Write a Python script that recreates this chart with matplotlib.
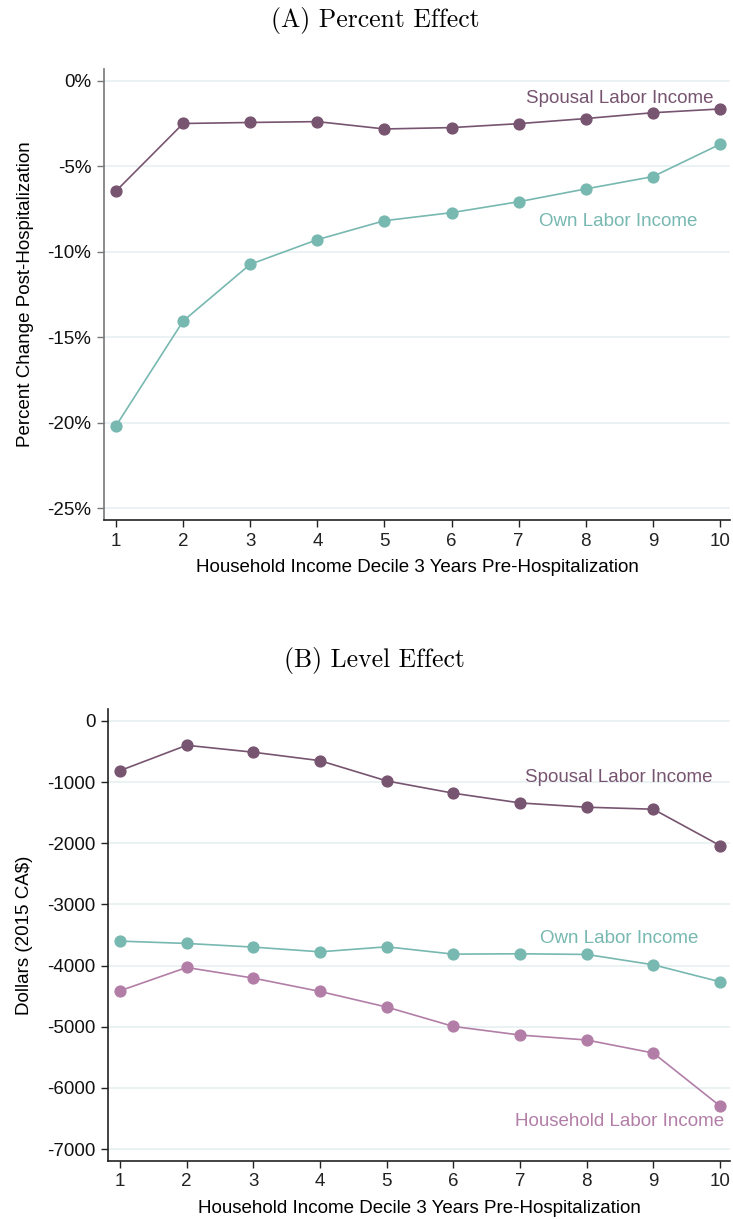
import matplotlib
matplotlib.use("Agg")
import matplotlib.pyplot as plt
from matplotlib.ticker import FuncFormatter

plt.rcParams['font.family'] = ['Liberation Sans', 'DejaVu Sans']

deciles = [1, 2, 3, 4, 5, 6, 7, 8, 9, 10]

# Panel A: percent effect
pct_spousal = [-6.44, -2.49, -2.43, -2.38, -2.81, -2.73, -2.50, -2.20, -1.86, -1.64]
pct_own = [-20.18, -14.05, -10.73, -9.29, -8.18, -7.71, -7.07, -6.32, -5.60, -3.71]
pct_ticks = [0, -5, -10, -15, -20, -25]

# Panel B: level effect (2015 CA$)
lvl_spousal = [-812, -397, -511, -649, -980, -1181, -1340, -1410, -1443, -2037]
lvl_own = [-3600, -3638, -3698, -3775, -3693, -3813, -3807, -3818, -3987, -4265]
lvl_household = [-4412, -4031, -4205, -4423, -4678, -4995, -5136, -5217, -5430, -6296]
lvl_ticks = [0, -1000, -2000, -3000, -4000, -5000, -6000, -7000]

C_SP = '#775470'
C_OWN = '#77b8b1'
C_HH = '#b27ea7'
GRID = '#e8f0f2'

W, H = 733, 1219
fig = plt.figure(figsize=(W / 100, H / 100), dpi=100)

fs_tick = 13.5
fs_lab = 13.5

def style(ax, left_color):
    ax.spines['top'].set_visible(False)
    ax.spines['right'].set_visible(False)
    ax.spines['left'].set_color(left_color)
    ax.spines['left'].set_linewidth(1.2)
    ax.spines['bottom'].set_color('#222222')
    ax.spines['bottom'].set_linewidth(1.2)
    ax.tick_params(axis='both', labelsize=fs_tick, length=5, width=1, colors='#222222', direction='out', pad=4)
    ax.tick_params(axis='y', colors=left_color, labelcolor='#111111')
    ax.grid(axis='y', color=GRID, linewidth=1.2)
    ax.set_axisbelow(True)
    ax.set_xticks(deciles)
    ax.set_xlim(0.82, 10.15)

mk = dict(marker='o', markersize=7.8, linewidth=1.2)

# Panel A
axA = fig.add_axes([104 / W, 1 - 520 / H, (730 - 104) / W, (520 - 69) / H])
axA.plot(deciles, pct_spousal, color=C_SP, **mk)
axA.plot(deciles, pct_own, color=C_OWN, **mk)
style(axA, '#777777')
axA.set_ylim(-25.7, 0.7)
axA.set_yticks(pct_ticks)
axA.yaxis.set_major_formatter(FuncFormatter(lambda v, p: f"{int(round(v))}%"))
axA.set_xlabel('Household Income Decile 3 Years Pre-Hospitalization', fontsize=fs_lab, labelpad=7)
axA.set_ylabel('Percent Change Post-Hospitalization', fontsize=fs_lab, labelpad=10)
axA.text(9.90, -1.05, 'Spousal Labor Income', color=C_SP, fontsize=fs_lab, ha='right', va='center')
axA.text(9.67, -8.2, 'Own Labor Income', color=C_OWN, fontsize=fs_lab, ha='right', va='center')

# Panel B
axB = fig.add_axes([108 / W, 1 - 1160.7 / H, (730 - 108) / W, (1160.7 - 709) / H])
axB.plot(deciles, lvl_spousal, color=C_SP, **mk)
axB.plot(deciles, lvl_own, color=C_OWN, **mk)
axB.plot(deciles, lvl_household, color=C_HH, **mk)
style(axB, '#222222')
axB.set_ylim(-7191, 196)
axB.set_yticks(lvl_ticks)
axB.yaxis.set_major_formatter(FuncFormatter(lambda v, p: f"{int(round(v))}"))
axB.set_xlabel('Household Income Decile 3 Years Pre-Hospitalization', fontsize=fs_lab, labelpad=7)
axB.set_ylabel('Dollars (2015 CA$)', fontsize=fs_lab, labelpad=10)
axB.text(9.89, -930, 'Spousal Labor Income', color=C_SP, fontsize=fs_lab, ha='right', va='center')
axB.text(9.68, -3560, 'Own Labor Income', color=C_OWN, fontsize=fs_lab, ha='right', va='center')
axB.text(10.06, -6550, 'Household Labor Income', color=C_HH, fontsize=fs_lab, ha='right', va='center')

# Panel titles
fig.text(375 / W, 1 - 20 / H, '(A) Percent Effect', family=['cmr10', 'DejaVu Serif'], fontsize=18.5, ha='center', va='center')
fig.text(374 / W, 1 - 660 / H, '(B) Level Effect', family=['cmr10', 'DejaVu Serif'], fontsize=18.5, ha='center', va='center')

fig.savefig('out.png', dpi=100, facecolor='white')
